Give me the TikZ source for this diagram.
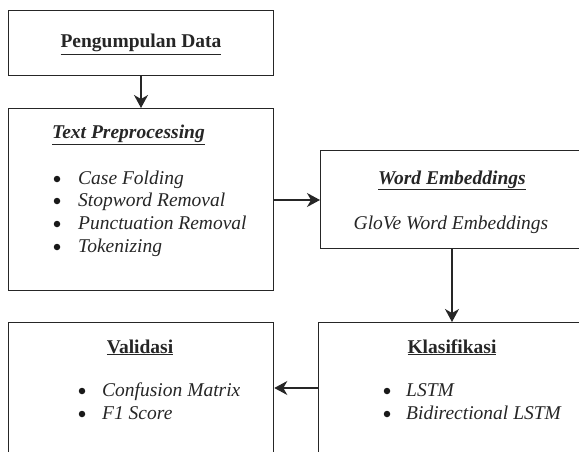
\documentclass[tikz,border=0pt]{standalone}
\usepackage{fontspec}
\setmainfont{Liberation Serif}
\usetikzlibrary{arrows.meta}
\begin{document}
\begin{tikzpicture}[x=1pt,y=-1pt,
  box/.style={draw=black!85, line width=1.3pt, anchor=north west, inner sep=0pt},
  txt/.style={anchor=base, inner sep=0pt, font=\fontsize{19.5}{23}\selectfont, text=black!85},
  ltxt/.style={txt, anchor=base west},
  bul/.style={circle, fill=black!90, inner sep=0pt, minimum size=6.5pt},
  conn/.style={line width=1.3pt, draw=black!85, -{Stealth[length=13pt,width=14pt,inset=4pt]}}]
\useasboundingbox (0,0) rectangle (579,452);
\clip (0,0) rectangle (579,452);
\fill[white] (0,0) rectangle (579,452);
% boxes
\node[box, minimum width=265pt, minimum height=65pt] (b1) at (8,10) {};
\node[box, minimum width=265pt, minimum height=182pt] (b2) at (8,108) {};
\node[box, minimum width=280pt, minimum height=98pt] (b3) at (320,150) {};
\node[box, minimum width=280pt, minimum height=160pt] (b4) at (318,322) {};
\node[box, minimum width=265pt, minimum height=160pt] (b5) at (8,322) {};
% box 1
\node[txt] (t1) at (141,48) {\textbf{\underline{Pengumpulan Data}}};
% box 2
\node[ltxt] (t2) at (52,139) {\textbf{\textit{\underline{Text Preprocessing}}}};
\node[bul] (p1) at (57,179) {};
\node[ltxt] (i1) at (78,184) {\textit{Case Folding}};
\node[bul] (p2) at (57,201) {};
\node[ltxt] (i2) at (78,206) {\textit{Stopword Removal}};
\node[bul] (p3) at (57,224) {};
\node[ltxt] (i3) at (78,229) {\textit{Punctuation Removal}};
\node[bul] (p4) at (57,247) {};
\node[ltxt] (i4) at (78,252) {\textit{Tokenizing}};
% box 3
\node[txt] (t3) at (452,184) {\textbf{\textit{\underline{Word Embeddings}}}};
\node[txt] (g3) at (451,229) {\textit{GloVe Word Embeddings}};
% box 4
\node[txt] (t4) at (452,353) {\textbf{\underline{Klasifikasi}}};
\node[bul] (q1) at (387,391) {};
\node[ltxt] (j1) at (406,396) {\textit{LSTM}};
\node[bul] (q2) at (387,414) {};
\node[ltxt] (j2) at (406,419) {\textit{Bidirectional LSTM}};
% box 5
\node[txt] (t5) at (140,353) {\textbf{\underline{Validasi}}};
\node[bul] (r1) at (82,391) {};
\node[ltxt] (k1) at (102,396) {\textit{Confusion Matrix}};
\node[bul] (r2) at (82,414) {};
\node[ltxt] (k2) at (102,419) {\textit{F1 Score}};
% connectors
\draw[conn] (b1.south -| 141,0) -- (b2.north -| 141,0);
\draw[conn] (b2.east |- 0,200) -- (b3.west |- 0,200);
\draw[conn] (b3.south -| 452,0) -- (b4.north -| 452,0);
\draw[conn] (b4.west |- 0,388) -- (b5.east |- 0,388);
\end{tikzpicture}
\end{document}
